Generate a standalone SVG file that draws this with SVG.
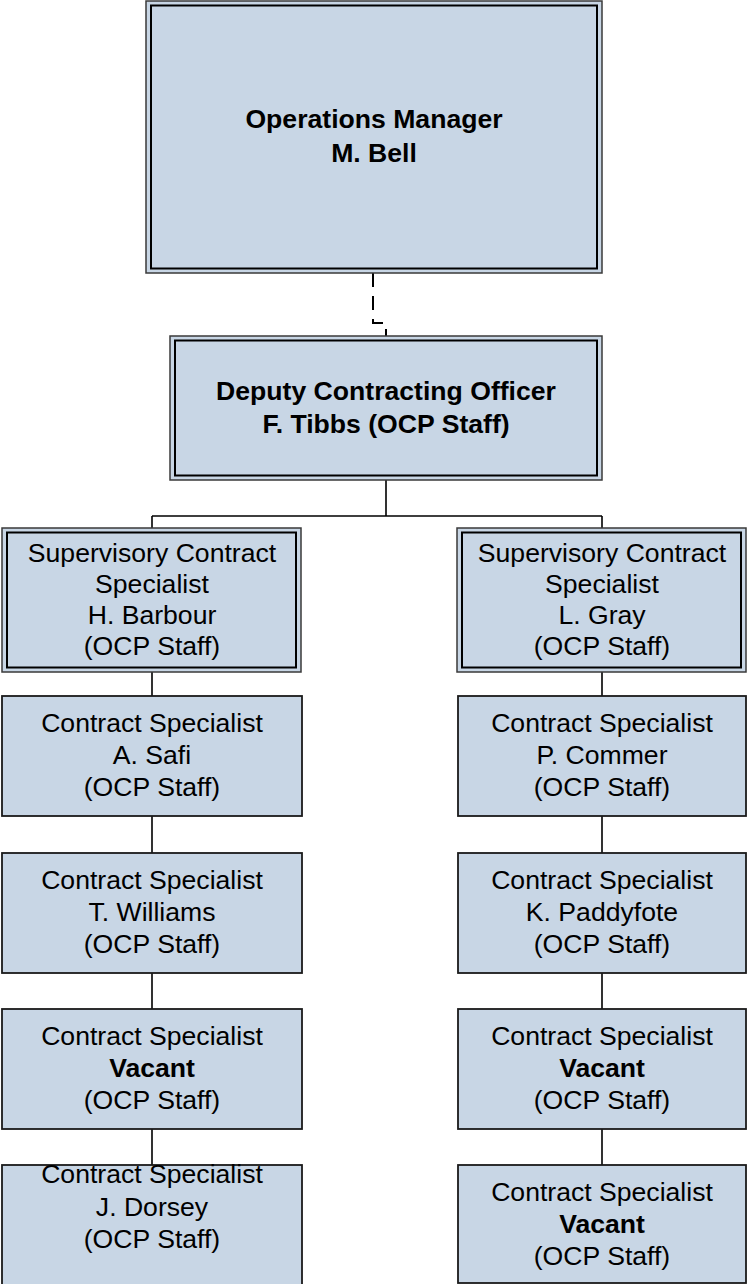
<svg xmlns="http://www.w3.org/2000/svg" width="748" height="1284" viewBox="0 0 748 1284">
<style>
.fill{fill:#c8d6e5}
.outer{fill:#c8d6e5;stroke:#3a3a3a;stroke-width:1.5}
.inner{fill:none;stroke:#000;stroke-width:2}
.single{fill:#c8d6e5;stroke:#1a1a1a;stroke-width:1.8}
.conn{fill:none;stroke:#000;stroke-width:1.6}
.dash{fill:none;stroke:#000;stroke-width:2;stroke-dasharray:14 9}
text{font-family:"Liberation Sans",Arial,sans-serif;font-size:26.6px;fill:#000;text-anchor:middle}
.b{font-weight:bold}
</style>
<rect width="748" height="1284" fill="#fff"/>
<g id="connectors">
<path class="dash" d="M373,273 V323 H386 V336"/>
<path class="conn" d="M386,480 V516 M152,516 H602 M152,516 V528 M602,516 V528"/>
<path class="conn" d="M152,672 V696 M152,816 V853 M152,973 V1009 M152,1129 V1165"/>
<path class="conn" d="M602,672 V696 M602,816 V853 M602,973 V1009 M602,1129 V1165"/>
</g>
<g id="ops-manager">
<rect class="outer" x="146" y="1" width="456" height="272"/>
<rect class="inner" x="151" y="5.5" width="446" height="263"/>
<text class="b" x="374" y="128">Operations Manager</text>
<text class="b" x="374" y="162">M. Bell</text>
</g>
<g id="deputy">
<rect class="outer" x="170" y="336" width="432" height="144"/>
<rect class="inner" x="175" y="340.5" width="422" height="135"/>
<text class="b" x="386" y="400">Deputy Contracting Officer</text>
<text class="b" x="386" y="433">F. Tibbs (OCP Staff)</text>
</g>
<g id="sup-barbour">
<rect class="outer" x="2" y="528" width="299" height="144"/>
<rect class="inner" x="7" y="532.5" width="289" height="135"/>
<text x="152" y="562">Supervisory Contract</text>
<text x="152" y="593">Specialist</text>
<text x="152" y="624">H. Barbour</text>
<text x="152" y="655">(OCP Staff)</text>
</g>
<g id="sup-gray">
<rect class="outer" x="457" y="528" width="289" height="144"/>
<rect class="inner" x="462" y="532.5" width="279" height="135"/>
<text x="602" y="562">Supervisory Contract</text>
<text x="602" y="593">Specialist</text>
<text x="602" y="624">L. Gray</text>
<text x="602" y="655">(OCP Staff)</text>
</g>
<g id="cs-safi">
<rect class="single" x="2" y="696" width="300" height="120"/>
<text x="152" y="732">Contract Specialist</text>
<text x="152" y="764">A. Safi</text>
<text x="152" y="796">(OCP Staff)</text>
</g>
<g id="cs-williams">
<rect class="single" x="2" y="853" width="300" height="120"/>
<text x="152" y="889">Contract Specialist</text>
<text x="152" y="921">T. Williams</text>
<text x="152" y="953">(OCP Staff)</text>
</g>
<g id="cs-vacant-left">
<rect class="single" x="2" y="1009" width="300" height="120"/>
<text x="152" y="1045">Contract Specialist</text>
<text class="b" x="152" y="1077">Vacant</text>
<text x="152" y="1109">(OCP Staff)</text>
</g>
<g id="cs-dorsey">
<rect class="single" x="2" y="1165" width="300" height="130"/>
<text x="152" y="1183">Contract Specialist</text>
<text x="152" y="1216">J. Dorsey</text>
<text x="152" y="1248">(OCP Staff)</text>
</g>
<g id="cs-commer">
<rect class="single" x="458" y="696" width="288" height="120"/>
<text x="602" y="732">Contract Specialist</text>
<text x="602" y="764">P. Commer</text>
<text x="602" y="796">(OCP Staff)</text>
</g>
<g id="cs-paddyfote">
<rect class="single" x="458" y="853" width="288" height="120"/>
<text x="602" y="889">Contract Specialist</text>
<text x="602" y="921">K. Paddyfote</text>
<text x="602" y="953">(OCP Staff)</text>
</g>
<g id="cs-vacant-right1">
<rect class="single" x="458" y="1009" width="288" height="120"/>
<text x="602" y="1045">Contract Specialist</text>
<text class="b" x="602" y="1077">Vacant</text>
<text x="602" y="1109">(OCP Staff)</text>
</g>
<g id="cs-vacant-right2">
<rect class="single" x="458" y="1165" width="288" height="118"/>
<text x="602" y="1201">Contract Specialist</text>
<text class="b" x="602" y="1233">Vacant</text>
<text x="602" y="1265">(OCP Staff)</text>
</g>
</svg>
